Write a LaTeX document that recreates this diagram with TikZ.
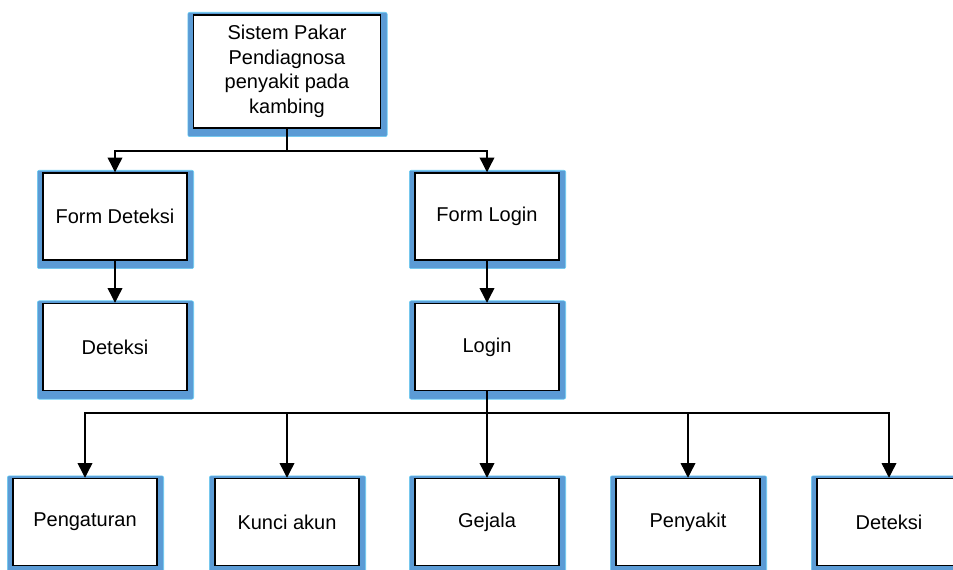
\documentclass[tikz,border=0pt]{standalone}
\usepackage{fontspec}
\setmainfont{Liberation Sans}
\usetikzlibrary{arrows.meta,backgrounds}

\definecolor{shadowblue}{RGB}{91,155,213}
\tikzset{
  box/.style={draw, line width=1.1pt, fill=white, minimum width=108pt, minimum height=65.25pt,
    inner sep=2pt, align=center, font=\fontsize{15}{18.4}\selectfont},
  arr/.style={line width=1pt, -{Triangle[width=11pt,length=11pt]}},
  link/.style={line width=1pt}
}

\begin{document}
\begin{tikzpicture}[x=0.75pt, y=-0.75pt]
  \useasboundingbox (0,0) rectangle (953,570);
  \coordinate (top)  at (287, 71.5);
  \coordinate (fd)   at (115, 216.5);
  \coordinate (fl)   at (487, 216.5);
  \coordinate (d)    at (115, 347);
  \coordinate (l)    at (487, 347);
  \coordinate (bus1) at (287, 151);
  \coordinate (bus2) at (487, 413);

  \node[box, minimum width=140.25pt, minimum height=84.75pt] (sistem) at (top)
    {Sistem Pakar\\Pendiagnosa\\penyakit pada\\kambing};
  \node[box] (formdeteksi) at (fd) {Form Deteksi};
  \node[box] (formlogin) at (fl) {Form Login};
  \node[box] (deteksi) at (d) {Deteksi};
  \node[box] (login) at (l) {Login};
  \node[box] (pengaturan) at (85, 522) {Pengaturan};
  \node[box] (kunci) at (287, 522) {Kunci akun};
  \node[box] (gejala) at (487, 522) {Gejala};
  \node[box] (penyakit) at (688, 522) {Penyakit};
  \node[box] (deteksib) at (889, 522) {Deteksi};

  \begin{scope}[on background layer]
    \foreach \n in {sistem,formdeteksi,formlogin,deteksi,login,pengaturan,kunci,gejala,penyakit,deteksib}
      \draw[fill=shadowblue, draw=cyan!60, line width=0.4pt, rounded corners=1.5pt]
        ([shift={(-5,-2)}]\n.north west) rectangle ([shift={(6,8)}]\n.south east);
  \end{scope}

  \draw[link] (sistem.south) -- (bus1);
  \draw[arr] (bus1) -| (formdeteksi.north);
  \draw[arr] (bus1) -| (formlogin.north);
  \draw[arr] (formdeteksi) -- (deteksi);
  \draw[arr] (formlogin) -- (login);

  \draw[link] (login.south) -- (bus2);
  \foreach \n in {pengaturan,kunci,gejala,penyakit,deteksib}
    \draw[arr] (bus2) -| (\n.north);
\end{tikzpicture}
\end{document}
